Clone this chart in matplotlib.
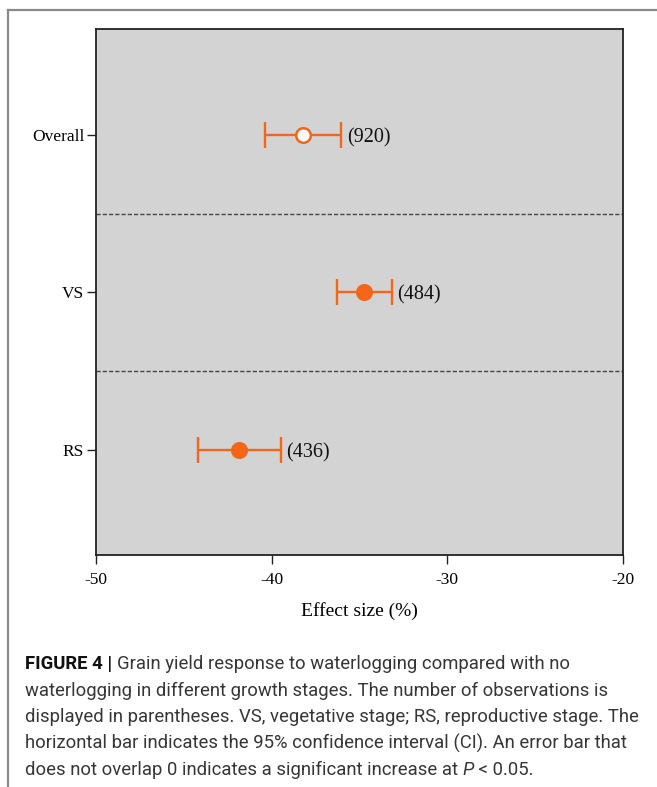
import matplotlib
matplotlib.use("Agg")
import matplotlib.pyplot as plt
from matplotlib.lines import Line2D

# Effect sizes (%) with 95% CI bounds and sample counts per growth stage
groups = ["Overall", "VS", "RS"]
effect = [-38.2, -34.73, -41.84]
ci_low = [-40.36, -36.30, -44.21]
ci_high = [-36.04, -33.17, -39.49]
counts = [920, 484, 436]
hollow = [True, False, False]

caption_lines = [
    [("FIGURE 4 | ", "bold"), ("Grain yield response to waterlogging compared with no", "plain")],
    [("waterlogging in different growth stages. The number of observations is", "plain")],
    [("displayed in parentheses. VS, vegetative stage; RS, reproductive stage. The", "plain")],
    [("horizontal bar indicates the 95% confidence interval (CI). An error bar that", "plain")],
    [("does not overlap 0 indicates a significant increase at ", "plain"), ("P", "italic"),
     (" < 0.05.", "plain")],
]

orange = "#f5661a"
W, H = 657, 787
fig = plt.figure(figsize=(W / 100, H / 100), dpi=100)
serif = ["Liberation Serif", "DejaVu Serif"]

# axes box in pixel terms: left 96, right 623, top 29, bottom 555
ax = fig.add_axes([96 / W, 1 - 555 / H, (623 - 96) / W, (555 - 29) / H])
ax.set_facecolor("#d3d3d3")

ypos = [3, 2, 1]
for i, g in enumerate(groups):
    y = ypos[i]
    ax.errorbar(effect[i], y,
                xerr=[[effect[i] - ci_low[i]], [ci_high[i] - effect[i]]],
                fmt="none", ecolor=orange, elinewidth=1.7, capsize=9.5,
                capthick=1.7, zorder=3)
    ax.plot(effect[i], y, "o", ms=10.5,
            mfc="white" if hollow[i] else orange, mec=orange, mew=1.8, zorder=4)
    ax.annotate(f"({counts[i]})", xy=(ci_high[i], y), xytext=(4, 0),
                textcoords="offset points", ha="left", va="center_baseline",
                fontsize=14.5, family=serif, color="#111111")

for yy in [2.5, 1.5]:
    ax.axhline(yy, color="#444444", lw=1.0, ls=(0, (3, 1.5)), zorder=2)

ax.set_xlim(-50, -20)
ax.set_ylim(0.333, 3.673)
ax.set_xticks([-50, -40, -30, -20])
ax.set_xticklabels(["-50", "-40", "-30", "-20"], family=serif, fontsize=12.5)
ax.set_yticks(ypos)
ax.set_yticklabels(groups, family=serif, fontsize=12.5)
ax.tick_params(axis="both", direction="out", length=6.5, width=1.0, color="#222222",
               pad=2)
ax.tick_params(axis="x", pad=6)
for s in ax.spines.values():
    s.set_linewidth(1.3)
    s.set_color("#222222")
ax.set_xlabel("Effect size (%)", family=serif, fontsize=14, labelpad=10)

# outer frame (top and left edges)
fig.add_artist(Line2D([8 / W, 1], [1 - 10 / H, 1 - 10 / H], color="#8a8a8a", lw=1.6,
                      transform=fig.transFigure))
fig.add_artist(Line2D([8 / W, 8 / W], [1 - 10 / H, 0], color="#8a8a8a", lw=1.6,
                      transform=fig.transFigure))

# caption drawn run by run so bold/italic pieces sit inline
renderer = fig.canvas.get_renderer()
cap_font = ["Roboto", "DejaVu Sans"]
line_y = [664, 690.5, 717, 743.5, 770]
for runs, py in zip(caption_lines, line_y):
    x = 25
    for txt, style in runs:
        kw = dict(fontsize=13.3, family=cap_font, color="#363636", va="center", ha="left")
        if style == "bold":
            kw.update(fontweight="bold", color="#111111")
        elif style == "italic":
            kw.update(fontstyle="italic")
        t = fig.text(x / W, 1 - py / H, txt, **kw)
        bb = t.get_window_extent(renderer=renderer)
        x += bb.width

fig.savefig("out.png", dpi=100)
